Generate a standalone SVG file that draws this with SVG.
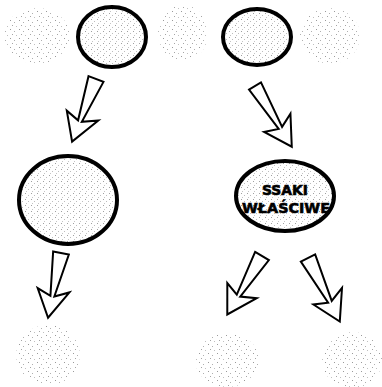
<svg xmlns="http://www.w3.org/2000/svg" width="382" height="387" viewBox="0 0 382 387">
  <defs>
    <pattern id="dots" width="9" height="9" patternUnits="userSpaceOnUse">
      <rect x="1" y="2" width="1" height="1" fill="#9a9a9a"/>
      <rect x="5" y="4" width="1" height="1" fill="#b0b0b0"/>
      <rect x="3" y="7" width="1" height="1" fill="#a5a5a5"/>
      <rect x="7" y="8" width="1" height="1" fill="#c0c0c0"/>
    </pattern>
    <pattern id="dots2" width="6" height="6" patternUnits="userSpaceOnUse">
      <rect width="6" height="6" fill="#ffffff"/>
      <rect x="1" y="1" width="1" height="1" fill="#a0a0a0"/>
      <rect x="4" y="3" width="1" height="1" fill="#bdbdbd"/>
      <rect x="2" y="5" width="1" height="1" fill="#c5c5c5"/>
    </pattern>
  </defs>
  <style>
    .faded { fill: url(#dots); stroke: none; }
    .node { fill: url(#dots2); stroke: #000; stroke-width: 4; }
    .arrow { fill: #ffffff; stroke: #000; stroke-width: 2; stroke-linejoin: miter; }
    .label { font-family: "DejaVu Sans", "Liberation Sans", sans-serif; font-weight: 900; font-size: 14px; fill: #000; stroke: #000; stroke-width: 0.6; text-anchor: middle; }
  </style>
  <rect width="382" height="387" fill="#ffffff"/>

  <g id="faded-top-left"><ellipse class="faded" cx="37" cy="36" rx="33" ry="28"/></g>
  <g id="node-top-left"><ellipse class="node" cx="112" cy="37" rx="34" ry="30"/></g>
  <g id="faded-top-mid"><ellipse class="faded" cx="183" cy="33" rx="25" ry="28"/></g>
  <g id="node-top-right"><ellipse class="node" cx="257" cy="37" rx="34" ry="28"/></g>
  <g id="faded-top-right"><ellipse class="faded" cx="330" cy="36" rx="30" ry="28"/></g>

  <g id="node-mid-left"><ellipse class="node" cx="68" cy="200" rx="49" ry="44"/></g>
  <g id="node-mid-right">
    <ellipse class="node" cx="285" cy="196" rx="49" ry="35"/>
    <text class="label" x="285" y="195" textLength="46" lengthAdjust="spacingAndGlyphs">SSAKI</text>
    <text class="label" x="286" y="213" textLength="88" lengthAdjust="spacingAndGlyphs">WŁAŚCIWE</text>
  </g>

  <g id="faded-bottom-left"><ellipse class="faded" cx="48" cy="355" rx="32" ry="30"/></g>
  <g id="faded-bottom-mid"><ellipse class="faded" cx="227" cy="360" rx="32" ry="27"/></g>
  <g id="faded-bottom-right"><ellipse class="faded" cx="352" cy="360" rx="30" ry="28"/></g>

  <g id="connectors">
    <path class="arrow" transform="translate(96,79) rotate(20.9)" d="M -8,0 L 8,0 L 2,45 L 17,38 L 0,67 L -16,40 L -2,45 Z"/>
    <path class="arrow" transform="translate(255,86) rotate(-31.2)" d="M -7,0 L 7,0 L 2,49 L 16,42 L 0,71 L -16,44 L -2,49 Z"/>
    <path class="arrow" transform="translate(61,253) rotate(11.3)" d="M -8,0 L 8,0 L 2,44 L 16,37 L 0,66 L -16,39 L -2,44 Z"/>
    <path class="arrow" transform="translate(262,256) rotate(30.7)" d="M -8,0 L 8,0 L 2,46 L 17,39 L 0,68 L -16,41 L -2,46 Z"/>
    <path class="arrow" transform="translate(308,258) rotate(-26.6)" d="M -8,0 L 8,0 L 2,49 L 17,42 L 0,71 L -16,44 L -2,49 Z"/>
  </g>
</svg>
